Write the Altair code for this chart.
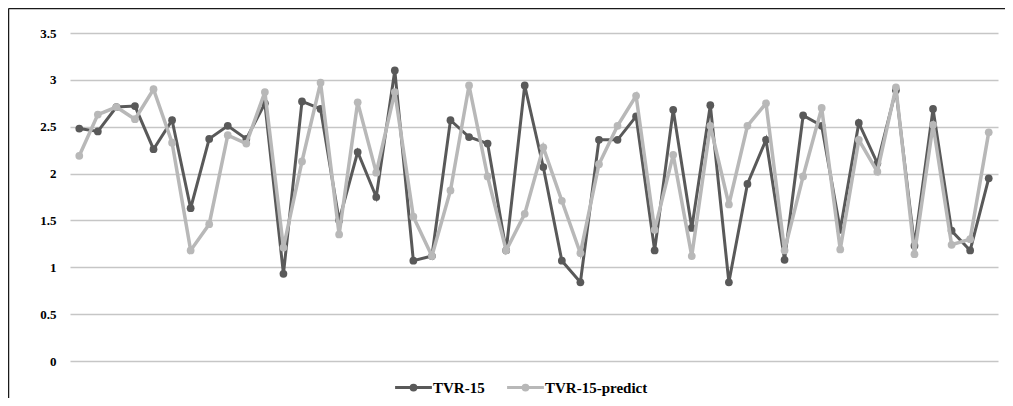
import altair as alt
import pandas as pd

series_names = ["TVR-15", "TVR-15-predict"]
series_colors = ["#595959", "#b8b8b8"]

index = list(range(1, 51))

tvr = [2.48, 2.45, 2.71, 2.72, 2.26, 2.57, 1.63, 2.37, 2.51, 2.37,
       2.75, 0.93, 2.77, 2.69, 1.50, 2.23, 1.75, 3.10, 1.07, 1.12,
       2.57, 2.39, 2.32, 1.18, 2.94, 2.07, 1.07, 0.84, 2.36, 2.36,
       2.61, 1.18, 2.68, 1.42, 2.73, 0.84, 1.89, 2.36, 1.08, 2.62,
       2.51, 1.40, 2.54, 2.11, 2.89, 1.23, 2.69, 1.39, 1.18, 1.95]

pred = [2.19, 2.63, 2.71, 2.58, 2.90, 2.33, 1.18, 1.46, 2.41, 2.32,
        2.87, 1.21, 2.13, 2.97, 1.35, 2.76, 2.01, 2.87, 1.54, 1.12,
        1.82, 2.94, 1.97, 1.18, 1.57, 2.28, 1.71, 1.15, 2.10, 2.51,
        2.83, 1.40, 2.20, 1.12, 2.51, 1.67, 2.51, 2.75, 1.18, 1.97,
        2.70, 1.19, 2.36, 2.02, 2.92, 1.14, 2.52, 1.24, 1.30, 2.44]

y_ticks = [0, 0.5, 1, 1.5, 2, 2.5, 3, 3.5]

df = pd.DataFrame({
    "i": index * 2,
    "v": tvr + pred,
    "s": [series_names[0]] * len(tvr) + [series_names[1]] * len(pred),
})

FONT = "Liberation Serif"

x_enc = alt.X("i:Q", scale=alt.Scale(domain=[0.5, 50.5], nice=False, zero=False), axis=None)
y_enc = alt.Y(
    "v:Q",
    scale=alt.Scale(domain=[0, 3.5], nice=False),
    axis=alt.Axis(
        values=y_ticks, format="~g", title=None, domain=False, ticks=False,
        labelFont=FONT, labelFontWeight="bold", labelFontSize=13, labelColor="#000000",
        labelPadding=14, grid=True, gridColor="#c6c6c6", gridWidth=1.5,
    ),
)

legend_symbol = "M-4.6,0L4.6,0M-0.6,0A0.6,0.6,0,1,1,0.6,0A0.6,0.6,0,1,1,-0.6,0Z"

color_enc = alt.Color(
    "s:N",
    scale=alt.Scale(domain=series_names, range=series_colors),
    legend=alt.Legend(
        title=None, orient="none", legendX=336, legendY=347, direction="horizontal",
        symbolType=legend_symbol, symbolSize=64, symbolStrokeWidth=3,
        labelFont=FONT, labelFontWeight="bold", labelFontSize=15, labelColor="#000000",
        labelOffset=12, columnPadding=16,
    ),
)

base = alt.Chart(df).encode(x=x_enc, y=y_enc, color=color_enc)

layers = []
for name, sw in zip(series_names, [3, 3.5]):
    sub = base.transform_filter(alt.datum.s == name)
    layers.append(sub.mark_line(strokeWidth=sw))
    layers.append(sub.mark_point(filled=True, shape="circle", size=60, opacity=1))

frame = alt.Data(values=[{}])
top_edge = alt.Chart(frame).mark_rule(stroke="#1a1a1a", strokeWidth=1.5).encode(
    x=alt.value(-61.5), x2=alt.value(3000), y=alt.value(-24.5),
)
left_edge = alt.Chart(frame).mark_rule(stroke="#1a1a1a", strokeWidth=1.5).encode(
    x=alt.value(-61.5), y=alt.value(-24.5), y2=alt.value(3000),
)

chart = alt.layer(*layers, top_edge, left_edge).properties(
    width=928, height=328,
    padding={"left": 62, "top": 25, "right": 7, "bottom": 37},
    autosize=alt.AutoSizeParams(type="none"),
).configure_view(stroke=None)

chart.save("out.html", embed_options={"renderer": "svg", "actions": False})
